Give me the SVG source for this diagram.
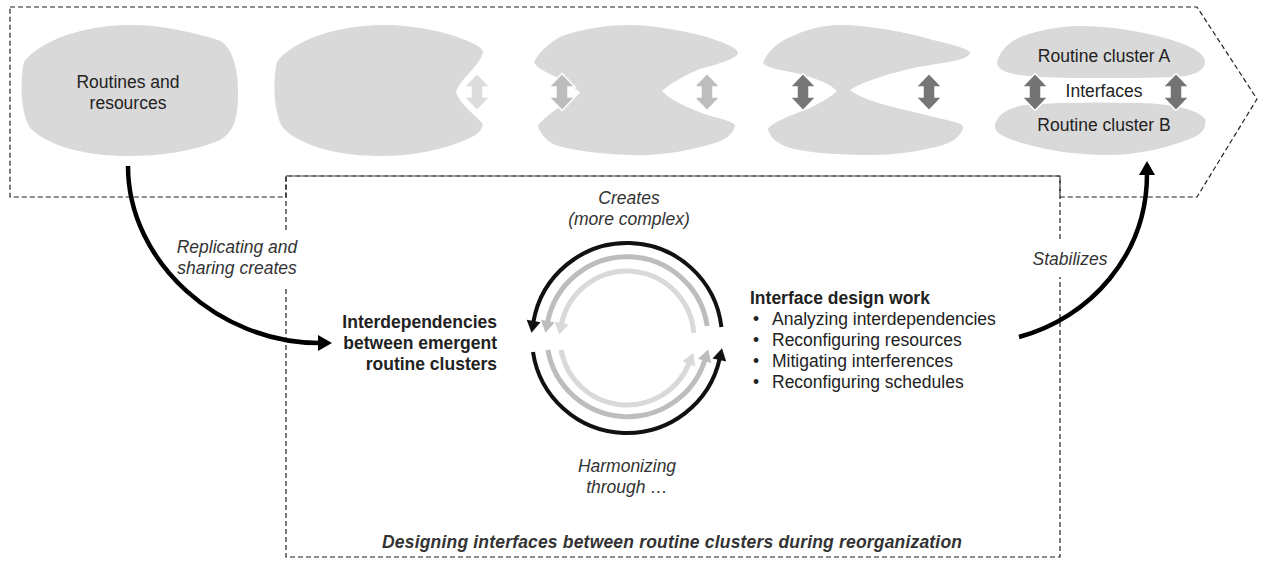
<svg xmlns="http://www.w3.org/2000/svg" xmlns:xlink="http://www.w3.org/1999/xlink" width="1262" height="561" viewBox="0 0 1262 561">
  <style>
    text { font-family: "Liberation Sans", Arial, sans-serif; font-size: 17.5px; fill: #222; }
    .c { text-anchor: middle; }
    .e { text-anchor: end; }
    .b { font-weight: bold; }
    .i { font-style: italic; fill: #333; }
    .frame { fill: none; stroke: #222; stroke-width: 1.2; stroke-dasharray: 5 3; }
    .blob { fill: #d9d9d9; }
    .dbl { stroke: #fff; stroke-width: 1.5; stroke-linejoin: miter; }
    .flow { fill: none; stroke: #000; stroke-width: 4.5; }
    .ring-k { fill: none; stroke: #111; stroke-width: 4; }
    .ring-m { fill: none; stroke: #bdbdbd; stroke-width: 5; }
    .ring-l { fill: none; stroke: #d9d9d9; stroke-width: 5; }
  </style>
  <defs>
    <!-- vertical double-headed arrow, centred on the origin -->
    <path id="dbl" d="M0,-18.5 L13,-5 L6,-5 L6,5 L13,5 L0,18.5 L-13,5 L-6,5 L-6,-5 L-13,-5 Z"/>
    <marker id="headBig" markerUnits="userSpaceOnUse" markerWidth="16" markerHeight="18" refX="1" refY="8" orient="auto" overflow="visible">
      <path d="M0,0 L14,8 L0,16 Z" fill="#000"/>
    </marker>
    <marker id="headK" markerUnits="userSpaceOnUse" markerWidth="14" markerHeight="14" refX="1" refY="7" orient="auto" overflow="visible">
      <path d="M0,0 L12,7 L0,14 Z" fill="#111"/>
    </marker>
    <marker id="headM" markerUnits="userSpaceOnUse" markerWidth="14" markerHeight="14" refX="1" refY="7" orient="auto" overflow="visible">
      <path d="M0,0 L12,7 L0,14 Z" fill="#bdbdbd"/>
    </marker>
    <marker id="headL" markerUnits="userSpaceOnUse" markerWidth="14" markerHeight="14" refX="1" refY="7" orient="auto" overflow="visible">
      <path d="M0,0 L12,7 L0,14 Z" fill="#d9d9d9"/>
    </marker>
  </defs>

  <rect width="1262" height="561" fill="#fff"/>

  <!-- dashed frames: evolution band and interface design box -->
  <g id="frames">
    <path class="frame" d="M10,7 H1197 L1257,99 L1197,197 H1060 V176 H286 V197 H10 Z"/>
    <rect class="frame" x="286" y="176" width="774" height="381"/>
  </g>

  <!-- stage 1: undivided routines and resources -->
  <g id="stage1">
    <path class="blob" d="M24,62 C40,40 85,25 130,25 C165,25 195,33 218,40 C233,46 238,70 238,92 C238,116 235,131 220,140 C192,152 160,156 128,156 C90,156 50,148 30,128 C20,112 20,78 24,62 Z"/>
    <text class="c" x="128" y="88">Routines and</text>
    <text class="c" x="128" y="109">resources</text>
  </g>

  <!-- stage 2: first indentation -->
  <g id="stage2">
    <path class="blob" d="M277,62 C293,40 338,25 383,25 C418,25 450,33 470,42 C480,46 483,50 483,53 C480,62 470,72 463,80 C459,85 457,89 456,92 C458,97 461,102 464,105 C470,112 478,118 483,124 C482,130 478,134 470,138 C443,150 413,156 381,156 C343,156 303,148 283,128 C273,112 273,78 277,62 Z"/>
    <use href="#dbl" class="dbl" fill="#dcdcdc" transform="translate(477,92)"/>
  </g>

  <!-- stage 3: indentation from both sides -->
  <g id="stage3">
    <path class="blob" d="M534,62 C540,50 552,41 562,36 C585,28 610,25 632,25 C660,26 690,32 710,38 C725,43 738,48 738,53 C737,58 720,64 700,69 C688,74 672,82 662,91 C670,100 688,108 707,115 C722,119 735,122 735,126 C733,134 726,139 718,142 C690,151 660,156 630,155 C600,154 570,150 555,145 C545,140 539,132 538,125 C545,117 557,108 570,100 C575,97 578,95 580,93 C576,88 568,83 558,78 C548,73 536,68 534,62 Z"/>
    <use href="#dbl" class="dbl" fill="#bdbdbd" transform="translate(562,92)"/>
    <use href="#dbl" class="dbl" fill="#bdbdbd" transform="translate(707,92)"/>
  </g>

  <!-- stage 4: clusters almost separated -->
  <g id="stage4">
    <path class="blob" d="M763,63 C767,52 777,43 788,38 C805,30 822,25 840,25 C870,25 905,32 933,40 C950,44 966,48 970,52 C970,56 965,58 958,60 C940,64 920,66 905,70 C885,75 862,82 850,90 C860,98 880,104 905,110 C925,115 945,119 958,123 C964,125 964,128 962,131 C958,139 950,143 940,146 C915,152 895,155 870,155 C840,155 810,153 790,148 C778,144 770,138 768,129 C772,122 790,116 810,108 C822,102 832,96 837,91 C830,84 818,79 800,74 C782,70 766,68 763,63 Z"/>
    <use href="#dbl" class="dbl" fill="#767676" transform="translate(803,92)"/>
    <use href="#dbl" class="dbl" fill="#767676" transform="translate(929,92)"/>
  </g>

  <!-- stage 5: separate routine clusters with interfaces -->
  <g id="stage5">
    <path class="blob" d="M997,63 C999,52 1008,42 1020,37 C1040,30 1060,26 1080,26 C1110,26 1140,31 1165,38 C1190,45 1205,53 1205,62 C1205,70 1195,76 1175,77 C1150,78 1125,78 1105,78 C1080,78 1060,78 1040,77 C1015,76 998,72 997,63 Z"/>
    <path class="blob" d="M995,127 C995,117 1005,108 1025,105 C1060,102 1100,102 1140,103 C1175,104 1198,110 1205,119 C1207,128 1202,134 1192,138 C1165,149 1135,155 1107,155 C1075,155 1045,150 1022,143 C1005,138 995,133 995,127 Z"/>
    <use href="#dbl" class="dbl" fill="#737373" transform="translate(1035,92)"/>
    <use href="#dbl" class="dbl" fill="#737373" transform="translate(1176,92)"/>
    <text class="c" x="1104" y="62">Routine cluster A</text>
    <text class="c" x="1104" y="97">Interfaces</text>
    <text class="c" x="1104" y="131">Routine cluster B</text>
  </g>

  <!-- interdependencies node -->
  <g id="interdependencies">
    <text class="b e" x="497" y="328">Interdependencies</text>
    <text class="b e" x="497" y="349">between emergent</text>
    <text class="b e" x="497" y="370">routine clusters</text>
  </g>

  <!-- interface design work node -->
  <g id="design-work">
    <text class="b" x="750" y="304">Interface design work</text>
    <text x="753" y="325">•</text><text x="772" y="325">Analyzing interdependencies</text>
    <text x="753" y="346">•</text><text x="772" y="346">Reconfiguring resources</text>
    <text x="753" y="367">•</text><text x="772" y="367">Mitigating interferences</text>
    <text x="753" y="388">•</text><text x="772" y="388">Reconfiguring schedules</text>
  </g>

  <!-- harmonizing cycle -->
  <g id="cycle">
    <path class="ring-l" d="M693.8,333 A67,67 0 0 0 561.5,324" marker-end="url(#headL)"/>
    <path class="ring-l" d="M561.1,350 A67,67 0 0 0 689.2,363" marker-end="url(#headL)"/>
    <path class="ring-m" d="M707.2,326 A81,81 0 0 0 547.6,322" marker-end="url(#headM)"/>
    <path class="ring-m" d="M547.9,350 A81,81 0 0 0 704.9,360" marker-end="url(#headM)"/>
    <path class="ring-k" d="M721.4,327 A95,95 0 0 0 533.4,322" marker-end="url(#headK)"/>
    <path class="ring-k" d="M533,352 A95,95 0 0 0 719.6,359" marker-end="url(#headK)"/>
    <text class="i c" x="629" y="204">Creates</text>
    <text class="i c" x="629" y="225">(more complex)</text>
    <text class="i c" x="627" y="472">Harmonizing</text>
    <text class="i c" x="627" y="493">through …</text>
  </g>

  <!-- connector labels -->
  <g id="labels">
    <rect x="170" y="232" width="134" height="55" fill="#fff"/>
    <text class="i c" x="237" y="253">Replicating and</text>
    <text class="i c" x="237" y="274">sharing creates</text>
    <rect x="1028" y="240" width="80" height="37" fill="#fff"/>
    <text class="i c" x="1070" y="265">Stabilizes</text>
    <text class="b i c" x="672" y="548" textLength="580">Designing interfaces between routine clusters during reorganization</text>
  </g>

  <!-- connectors -->
  <g id="connectors">
    <path class="flow" d="M128,166 C128,263 220,343 319,343" marker-end="url(#headBig)"/>
    <path class="flow" d="M1019,337 C1090,318 1147,255 1147,174" marker-end="url(#headBig)"/>
  </g>
</svg>
